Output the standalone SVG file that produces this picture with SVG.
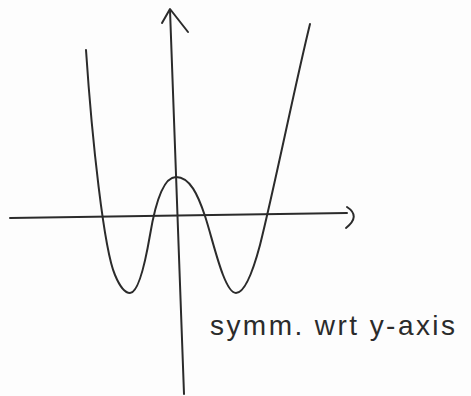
<svg xmlns="http://www.w3.org/2000/svg" width="471" height="396" viewBox="0 0 471 396">
<style>
.ink{fill:none;stroke:#2b2b2b;stroke-width:2;stroke-linecap:round;stroke-linejoin:round}
.lbl{font-family:"Liberation Sans","DejaVu Sans",sans-serif;font-size:28px;fill:#2b2b2b}
</style>
<rect width="471" height="396" fill="#fdfdfd"/>
<g id="axes">
<path class="ink" d="M10,218 L347,213"/>
<path class="ink" d="M347,207 Q361,216 346,228"/>
<path class="ink" d="M170,10 L184,394"/>
<path class="ink" d="M162,23 L170,9 L188,32"/>
</g>
<g id="curve">
<path class="ink" d="M86,50 C92,140 104,250 115,275 C120,287 125,293 130,293 C137,293 144,270 150,235 C155,205 163,177 176,177 C190,177 198,195 205,216 C213,240 224,293 236,293 C244,293 252,275 260,245 C275,185 295,85 310,24"/>
</g>
<g id="label">
<text class="lbl" x="210" y="335" textLength="245" lengthAdjust="spacing">symm. wrt y-axis</text>
</g>
</svg>
